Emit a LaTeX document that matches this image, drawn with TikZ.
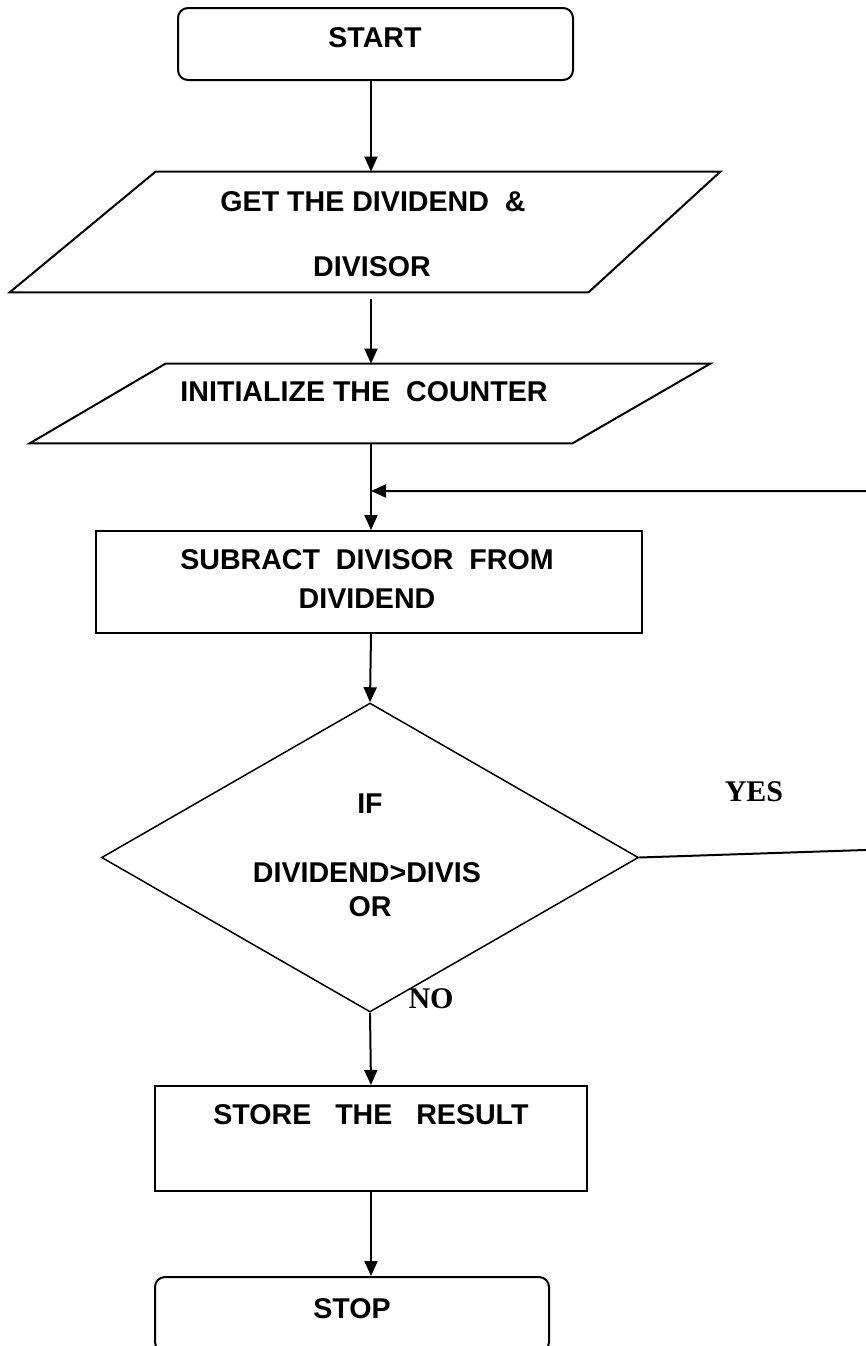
\documentclass[tikz,border=0pt]{standalone}
\usepackage{fontspec}
\setmainfont{Liberation Sans}[BoldFont={Liberation Sans Bold}]
\newfontfamily\labelserif{Liberation Serif}[BoldFont={Liberation Serif Bold}]
\usetikzlibrary{arrows.meta,shapes.geometric}

\begin{document}
\begin{tikzpicture}[x=0.5pt,y=-0.5pt,
  box/.style={draw, line width=1pt, inner sep=0pt},
  iobox/.style={inner sep=0pt},
  edge/.style={line width=1pt, line join=miter},
  txt/.style={font=\fontsize{14.3}{17}\selectfont\bfseries, inner sep=0pt,
              text height=10.2pt, text depth=0pt},
  yn/.style={font=\labelserif\fontsize{15}{17}\selectfont\bfseries, inner sep=0pt,
             text height=9.9pt, text depth=0pt},
  flow/.style={line width=1pt, -{Triangle[length=7.5pt,width=6.5pt]}}]

% page
\fill[white] (0,0) rectangle (866,1346);
\clip (0,0) rectangle (866,1346);

% shapes
\node[box, rounded corners=5pt, minimum width=197.5pt, minimum height=36pt] (start) at (375.5,44) {};
\node[iobox, minimum width=355pt, minimum height=60pt] (in1) at (365,232) {};
\draw[edge] ([xshift=73pt]in1.north west) -- (in1.north east)
  -- ([xshift=-66pt]in1.south east) -- (in1.south west) -- cycle;
\node[iobox, minimum width=340pt, minimum height=39.5pt] (in2) at (370,403.5) {};
\draw[edge] ([xshift=68pt]in2.north west) -- (in2.north east)
  -- ([xshift=-69pt]in2.south east) -- (in2.south west) -- cycle;
\node[box, minimum width=273pt, minimum height=51pt] (sub) at (369,582) {};
\node[draw, diamond, line width=0.75pt, inner sep=0pt,
      minimum width=268.5pt, minimum height=154.5pt] (dec) at (370,857.5) {};
\node[box, minimum width=216pt, minimum height=52.5pt] (store) at (371,1138.5) {};
\node[box, rounded corners=5pt, minimum width=197pt, minimum height=37.5pt] (stop) at (352,1314.5) {};

% texts
\node[txt] (t-start) at (375,37.5) {START};
\node[txt] (t-get1) at (373,201) {GET THE DIVIDEND\ \ \&};
\node[txt] (t-get2) at (372,266) {DIVISOR};
\node[txt] (t-init) at (364,391) {INITIALIZE THE\ \ COUNTER};
\node[txt] (t-sub1) at (367,559) {SUBRACT\ \ DIVISOR\ \ FROM};
\node[txt] (t-sub2) at (367,598) {DIVIDEND};
\node[txt] (t-if) at (370,803) {IF};
\node[txt] (t-cond) at (367,872) {DIVIDEND>DIVIS};
\node[txt] (t-or) at (370,906) {OR};
\node[txt] (t-store) at (371,1114.5) {STORE\ \ \ THE\ \ \ RESULT};
\node[txt] (t-stop) at (352,1308) {STOP};
\node[yn] (t-yes) at (754,792) {YES};
\node[yn] (t-no) at (431,999) {NO};

% connectors
\coordinate (spine) at (371,0);
\coordinate (join) at (371,491);
\coordinate (yesout) at (880,849.5);
\coordinate (backin) at (880,491);

\draw[flow] (start.south -| spine) -- (in1.north -| spine);
\draw[flow, shorten <=3.5pt] (in1.south -| spine) -- (in2.north -| spine);
\draw[flow] (in2.south -| spine) -- (sub.north -| spine);
\draw[flow] (sub.south -| spine) -- (dec.north);
\draw[flow] (dec.south) -- (store.north -| spine);
\draw[flow] (store.south -| spine) -- (stop.north -| spine);
\draw[flow] (dec.east) -- (yesout) -- (backin) -- (join);
\end{tikzpicture}
\end{document}
